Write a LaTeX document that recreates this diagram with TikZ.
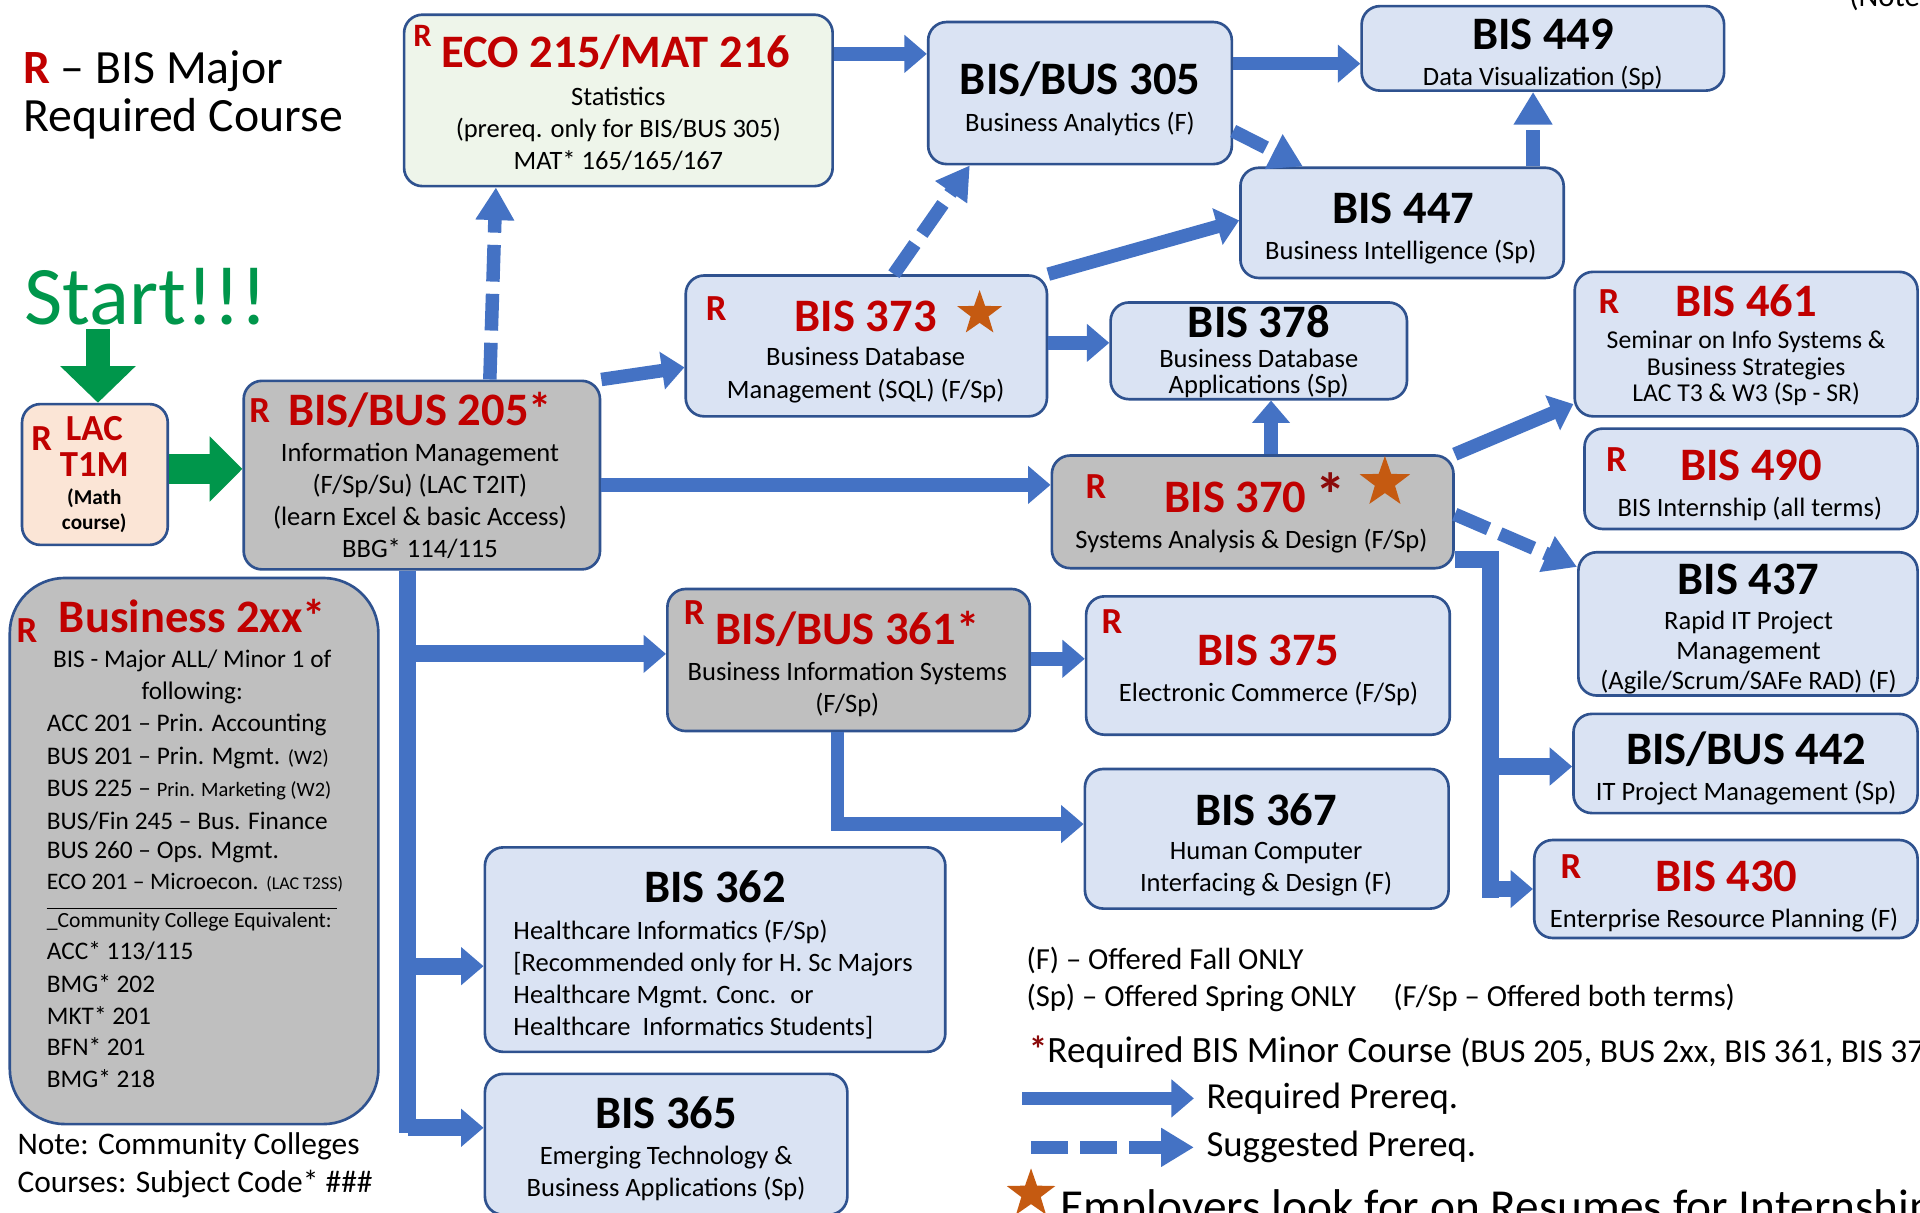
\documentclass[tikz,border=0pt]{standalone}
\usepackage{fontspec}
\setmainfont{Carlito}
\usetikzlibrary{arrows.meta,fit,shapes.geometric}
\definecolor{boxline}{HTML}{2F528F}
\definecolor{boxblue}{HTML}{DAE3F3}
\definecolor{boxgray}{HTML}{BFBFBF}
\definecolor{boxgreen}{HTML}{EEF5EA}
\definecolor{boxpeach}{HTML}{FBE5D6}
\definecolor{arrowblue}{HTML}{4472C4}
\definecolor{reqred}{HTML}{C00000}
\definecolor{minorred}{HTML}{8B0A0A}
\definecolor{startgreen}{HTML}{00964B}
\definecolor{starorange}{HTML}{C55A11}
\newcommand{\fsz}[2]{\fontsize{#1}{#2}\selectfont}

\begin{document}
\begin{tikzpicture}[x=0.6pt, y=-0.6pt,
  box/.style={draw=boxline, line width=1.3pt, rounded corners=9pt, inner sep=0pt, fill=boxblue},
  graybox/.style={box, fill=boxgray},
  title/.style={font=\fsz{22.8}{24}\bfseries},
  rtitle/.style={title, text=reqred},
  rmark/.style={font=\fsz{18}{20}\bfseries, text=reqred},
  sub/.style={font=\fsz{13}{15.6}, align=center},
  body/.style={font=\fsz{12.4}{15.6}, anchor=west, inner sep=0pt},
  legend/.style={font=\fsz{15}{18}, anchor=west, inner sep=0pt},
  req/.style={draw=arrowblue, line width=6.6pt, -{Triangle[width=18pt,length=11pt]}},
  sug/.style={draw=arrowblue, line width=6.6pt, dash pattern=on 18pt off 6pt,
    -{Triangle[width=18pt,length=16pt]}},
  trunk/.style={draw=arrowblue, line width=8.4pt},
  goarrow/.style={draw=startgreen, -{Triangle[width=36pt,length=18pt]}},
  orangestar/.style={star, star points=5, star point ratio=2.5, fill=starorange,
    inner sep=0pt, minimum size=23pt},
]
  \fill[white] (0,0) rectangle (1568,990);
  \useasboundingbox (0,0) rectangle (1568,990);

  % boxes
  \node[box, fill=boxgreen, fit={(330,12) (680,152)}] (eco) {};
  \node[box, fit={(758,18) (1006,134)}] (b305) {};
  \node[box, fit={(1112,5) (1408,74)}] (b449) {};
  \node[box, fit={(1013,137) (1277,227)}] (b447) {};
  \node[box, fit={(560,225) (855,340)}] (b373) {};
  \node[box, fit={(907,247) (1149,326)}] (b378) {};
  \node[box, fit={(1286,222) (1566,340)}] (b461) {};
  \node[box, fit={(1294,350) (1566,432)}] (b490) {};
  \node[graybox, fit={(859,372) (1187,464)}] (b370) {};
  \node[graybox, fit={(199,311) (490,465)}] (b205) {};
  \node[box, fill=boxpeach, fit={(18,330) (137,445)}] (lac) {};
  \node[graybox, rounded corners=27pt, fit={(8,472) (309,918)}] (b2xx) {};
  \node[graybox, fit={(545,481) (841,597)}] (b361) {};
  \node[box, fit={(887,487) (1184,600)}] (b375) {};
  \node[box, fit={(1289,451) (1566,568)}] (b437) {};
  \node[box, fit={(1285,583) (1566,664)}] (b442) {};
  \node[box, fit={(886,628) (1183,742)}] (b367) {};
  \node[box, fit={(1253,686) (1566,766)}] (b430) {};
  \node[box, fit={(396,692) (772,859)}] (b362) {};
  \node[box, fit={(396,877) (692,992)}] (b365) {};

  % start
  \node[font=\fsz{40.8}{44}, text=startgreen, anchor=west, inner sep=2pt] (start) at (16,242) {Start!!!};
  \draw[goarrow, line width=12pt] (start.south -| 80,0) -- (lac.north -| 80,0);
  \draw[goarrow, line width=15pt, -{Triangle[width=31pt,length=16pt]}]
    (lac.east |- 0,383) -- (b205.west |- 0,383);

  % required prereqs
  \draw[req] (eco.east |- 0,44) -- (b305.west |- 0,44);
  \draw[req] (b305.east |- 0,52) -- (b449.west |- 0,52);
  \draw[req] (b373.north east) -- (b447.west |- 0,180);
  \draw[req] (b373.east |- 0,280) -- (b378.west |- 0,280);
  \draw[req] (b370.north -| 1038,0) -- (b378.south -| 1038,0);
  \draw[req] (b205.north east) -- (b373.west |- 0,300);
  \draw[req] (b205.east |- 0,396) -- (b370.west |- 0,396);
  \draw[req] (b370.north east) -- (b461.west |- 0,330);
  \draw[req] (b361.east |- 0,538) -- (b375.west |- 0,538);
  \draw[req, line join=miter] (b361.south -| 684,0) |- (b367.west |- 0,673);

  % suggested prereqs
  \draw[sug] (b205.north -| 400,0) -- (eco.south -| 405,0);
  \draw[sug] (b373.north -| 730,0) -- (b305.south -| 792,0);
  \draw[sug] (b305.east |- 0,107) -- (b447.north -| 1064,0);
  \draw[sug] (b447.north -| 1252,0) -- (b449.south -| 1252,0);
  \draw[sug] (b370.east |- 0,420) -- (b437.west |- 0,463);

  % trunk below BIS/BUS 205
  \draw[trunk] (b205.south -| 333,0) -- (333,925);
  \foreach \y/\b in {534/b361, 789/b362, 921/b365} {
    \coordinate (t\b) at (333,\y);
    \draw[req, line width=8.4pt] (t\b) -- (\b.west |- t\b);
  }
  % trunk beside BIS 370
  \draw[trunk] (b370.east |- 0,457) -- (1217,457) -- (1217,733);
  \foreach \y/\b in {626/b442, 726/b430} {
    \coordinate (t\b) at (1217,\y);
    \draw[req, line width=8pt] (t\b) -- (\b.west |- t\b);
  }

  % legend top left
  \node[anchor=west, font=\fsz{23.4}{26}] (keyr) at (13,58) {\textcolor{reqred}{\textbf{R}} – BIS Major};
  \node[anchor=west, font=\fsz{23.4}{26}] (keyrc) at (13,97) {Required Course};

  % ECO 215/MAT 216
  \node[rmark, font=\fsz{16}{18}\bfseries] (reco) at (345,29) {R};
  \node[rtitle] (teco) at (503,43) {ECO 215/MAT 216};
  \node[sub] (seco) at (505,105) {Statistics\\(prereq. only for BIS/BUS 305)\\MAT* 165/165/167};
  % BIS/BUS 305
  \node[title] (t305) at (882,65) {BIS/BUS 305};
  \node[sub] (s305) at (882,101) {Business Analytics (F)};
  % BIS 449
  \node[title] (t449) at (1260,28) {BIS 449};
  \node[sub] (s449) at (1260,64) {Data Visualization (Sp)};
  % BIS 447
  \node[title] (t447) at (1146,170) {BIS 447};
  \node[sub] (s447) at (1144,206) {Business Intelligence (Sp)};
  % BIS 373
  \node[rmark] (r373) at (585,252) {R};
  \node[rtitle] (t373) at (707,258) {BIS 373};
  \node[orangestar] (st373) at (800,256) {};
  \node[sub, font=\fsz{13}{16.2}] (s373) at (707,306) {Business Database\\Management (SQL) (F/Sp)};
  % BIS 378
  \node[title] (t378) at (1028,263) {BIS 378};
  \node[sub, font=\fsz{13}{12.6}] (s378) at (1028,305) {Business Database\\Applications (Sp)};
  % BIS 461
  \node[rmark] (r461) at (1314,246) {R};
  \node[rtitle] (t461) at (1426,246) {BIS 461};
  \node[sub, font=\fsz{12.6}{13}] (s461) at (1426,301) {Seminar on Info Systems \&\\Business Strategies\\LAC T3 \& W3 (Sp - SR)};
  % BIS 490
  \node[rmark] (r490) at (1320,375) {R};
  \node[rtitle] (t490) at (1430,380) {BIS 490};
  \node[sub] (s490) at (1429,416) {BIS Internship (all terms)};
  % BIS 370
  \node[rmark] (r370) at (895,397) {R};
  \node[rtitle] (t370) at (1009,406) {BIS 370};
  \node[font=\fsz{30}{30}\bfseries, text=minorred] (a370) at (1087,404) {*};
  \node[orangestar, minimum size=26pt] (st370) at (1131,394) {};
  \node[sub] (s370) at (1022,442) {Systems Analysis \& Design (F/Sp)};
  % BIS/BUS 205
  \node[rmark] (r205) at (212,335) {R};
  \node[rtitle] (t205) at (343,335) {BIS/BUS 205*};
  \node[sub] (s205) at (343,409) {Information Management\\(F/Sp/Su) (LAC T2IT)\\(learn Excel \& basic Access)\\BBG* 114/115};
  % LAC T1M
  \node[rmark] (rlac) at (34,358) {R};
  \node[rmark] (tlac) at (77,350) {LAC};
  \node[rmark] (tlac2) at (77,379) {T1M};
  \node[align=center, font=\fsz{10.4}{12.6}\bfseries] (slac) at (77,417) {(Math\\course)};
  % Business 2xx
  \node[rmark] (r2xx) at (22,515) {R};
  \node[rtitle] (t2xx) at (157,503) {Business 2xx*};
  \node[sub, font=\fsz{12.4}{15.6}] (s2xx) at (157,553) {BIS - Major ALL/ Minor 1 of\\following:};
  \foreach \y/\t [count=\i] in {592/{ACC 201 – Prin. Accounting},
      619/{BUS 201 – Prin. Mgmt. {\fsz{10}{12}(W2)}},
      645/{BUS 225 – {\fsz{10}{12}Prin. Marketing (W2)}},
      671/{BUS/Fin 245 – Bus. Finance},
      696/{BUS 260 – Ops. Mgmt.},
      721/{{\fsz{11.6}{14}ECO 201 – Microecon.} {\fsz{8.8}{11}(LAC T2SS)}},
      777/{ACC* 113/115}, 803/{BMG* 202}, 829/{MKT* 201},
      855/{BFN* 201}, 881/{BMG* 218}} {
    \node[body] (c\i) at (38,\y) {\t};
  }
  \draw[black, line width=0.5pt] (38,742) -- (275,742);
  \node[body, font=\fsz{10.6}{12}] (ccc) at (38,753) {\_Community College Equivalent:};
  % BIS/BUS 361
  \node[rmark] (r361) at (567,500) {R};
  \node[rtitle] (t361) at (692,514) {BIS/BUS 361*};
  \node[sub] (s361) at (692,563) {Business Information Systems\\(F/Sp)};
  % BIS 375
  \node[rmark] (r375) at (908,508) {R};
  \node[rtitle] (t375) at (1036,531) {BIS 375};
  \node[sub] (s375) at (1036,567) {Electronic Commerce (F/Sp)};
  % BIS 437
  \node[title] (t437) at (1428,473) {BIS 437};
  \node[sub, font=\fsz{13}{14.6}] (s437) at (1428,533) {Rapid IT Project\\Management\\(Agile/Scrum/SAFe RAD) (F)};
  % BIS/BUS 442
  \node[title] (t442) at (1426,612) {BIS/BUS 442};
  \node[sub] (s442) at (1426,648) {IT Project Management (Sp)};
  % BIS 367
  \node[title] (t367) at (1034,661) {BIS 367};
  \node[sub] (s367) at (1034,710) {Human Computer\\Interfacing \& Design (F)};
  % BIS 430
  \node[rmark] (r430) at (1283,708) {R};
  \node[rtitle] (t430) at (1410,716) {BIS 430};
  \node[sub] (s430) at (1408,751) {Enterprise Resource Planning (F)};
  % BIS 362
  \node[title] (t362) at (584,724) {BIS 362};
  \node[sub, align=left, anchor=west, inner sep=0pt] (s362) at (419,800)
    {Healthcare Informatics (F/Sp)\\{[}Recommended only for H. Sc Majors\\Healthcare Mgmt. Conc.~ or\\Healthcare~ Informatics Students{]}};
  % BIS 365
  \node[title] (t365) at (544,909) {BIS 365};
  \node[sub] (s365) at (544,958) {Emerging Technology \&\\Business Applications (Sp)};

  % notes
  \node[anchor=west, align=left, inner sep=0pt, font=\fsz{15.4}{18.6}] (note) at (14,952)
    {Note: Community Colleges\\Courses: Subject Code* \#\#\#};
  \node[anchor=base west, inner sep=0pt, font=\fsz{15}{18}] (notetop) at (1510,5) {(Note};

  % legend bottom right
  \node[legend] (kf) at (838,784) {(F) – Offered Fall ONLY};
  \node[legend] (ksp) at (838,815) {(Sp) – Offered Spring ONLY\quad\ (F/Sp – Offered both terms)};
  \node[legend, font=\fsz{18.2}{20}] (kmin) at (840,859)
    {\textcolor{minorred}{\textbf{*}}Required BIS Minor Course {\fsz{16.4}{18}(BUS 205, BUS 2xx, BIS 361, BIS 370)}};
  \coordinate (kreqs) at (835,897);
  \node[legend, font=\fsz{18}{20}, inner sep=6pt] (kreq) at (975,897) {Required Prereq.};
  \draw[req] (kreqs) -- (kreq.west);
  \coordinate (ksugs) at (842,937);
  \node[legend, font=\fsz{18}{20}, inner sep=6pt] (ksug) at (975,937) {Suggested Prereq.};
  \draw[sug] (ksugs) -- (ksug.west);
  \node[orangestar, minimum size=25pt] (kstar) at (842,975) {};
  \node[anchor=base west, inner sep=0pt, font=\fsz{23.2}{26}] (kemp) at (866,998)
    {Employers look for on Resumes for Internships};
\end{tikzpicture}
\end{document}
